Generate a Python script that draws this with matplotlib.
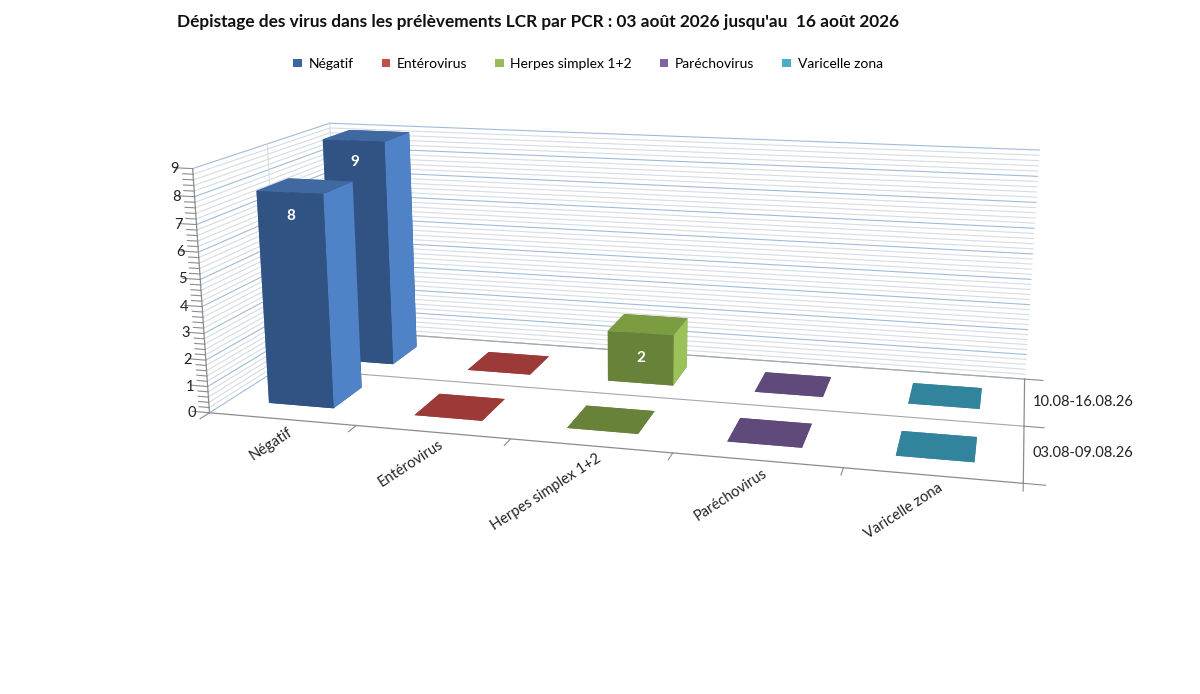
import matplotlib
matplotlib.use("Agg")
import matplotlib.pyplot as plt
import numpy as np
from matplotlib.patches import Patch
from mpl_toolkits.mplot3d import proj3d

plt.rcParams['font.family'] = ['Lato', 'DejaVu Sans']

title = "Dépistage des virus dans les prélèvements LCR par PCR : 03 août 2026 jusqu'au  16 août 2026"
categories = ['Négatif', 'Entérovirus', 'Herpes simplex 1+2', 'Paréchovirus', 'Varicelle zona']
periods = ['03.08-09.08.26', '10.08-16.08.26']
week1 = [8, 0, 0, 0, 0]
week2 = [9, 0, 2, 0, 0]
z_ticks = list(range(0, 10))

legend_colors = ['#3B66A0', '#C0504D', '#9BBB59', '#8064A2', '#4BACC6']
front_colors = ['#305383', '#9B3A37', '#68823A', '#5F4A7B', '#31849B']
side_colors = ['#4F82C6', '#C65A56', '#9BC25A', '#8A6DAE', '#55B4CC']
top_colors = ['#4069A2', '#B04A46', '#7C9C42', '#6E5590', '#3D98AE']

fig = plt.figure(figsize=(12, 6.94), dpi=100)
ax = fig.add_axes([0.012, -0.426, 1.0, 2.0], projection='3d', computed_zorder=False)
ax.set_proj_type('persp', focal_length=0.24)
ax.view_init(elev=14, azim=-76)
ax.set_box_aspect((4.7, 1.85, 1.47), zoom=0.705)
ax.set_axis_off()

nx = len(categories)
ny = len(periods)
zmax = 9

grid_major = '#9DBCDC'
grid_minor = '#D6DCE4'
axis_col = '#8C8C8C'

# walls: gridlines on the left wall and the back wall
for zv in np.arange(0, zmax + 0.01, 0.2):
    major = abs(zv - round(zv)) < 1e-6
    col = grid_major if major else grid_minor
    ax.plot([0, 0], [0, ny], [zv, zv], color=col, lw=0.8, zorder=1)
    ax.plot([0, nx], [ny, ny], [zv, zv], color=col, lw=0.8, zorder=1)
for yv in [1, 2]:
    ax.plot([0, 0], [yv, yv], [0, zmax], color=grid_minor, lw=0.8, zorder=1)

# floor lines
ax.plot([0, nx], [1, 1], [0, 0], color='#A6A6A6', lw=0.8, zorder=1)
ax.plot([0, nx], [ny, ny], [0, 0], color='#A6A6A6', lw=0.8, zorder=1)
ax.plot([0, nx], [0, 0], [0, 0], color=axis_col, lw=0.9, zorder=2)
ax.plot([nx, nx], [0, ny], [0, 0], color=axis_col, lw=0.9, zorder=2)
ax.plot([0, 0], [0, 0], [0, zmax], color=axis_col, lw=0.9, zorder=2)

# ticks
for zv in np.arange(0, zmax + 0.01, 0.2):
    major = abs(zv - round(zv)) < 1e-6
    ln = 0.12 if major else 0.07
    ax.plot([0, -ln], [0, 0], [zv, zv], color=axis_col, lw=0.8, zorder=2)
for xv in range(nx + 1):
    ax.plot([xv, xv], [0, -0.12], [0, 0], color=axis_col, lw=0.8, zorder=2)
for yv in range(ny + 1):
    ax.plot([nx, nx + 0.12], [yv, yv], [0, 0], color=axis_col, lw=0.8, zorder=2)

# bars: back row first, then front row
bw = 0.45
rows = [(1, week2), (0, week1)]
z = 3
for yrow, vals in rows:
    for i, v in enumerate(vals):
        x0 = i + (1 - bw) / 2
        y0 = yrow + (1 - bw) / 2
        if v > 0:
            cols = [front_colors[i], top_colors[i], front_colors[i],
                    front_colors[i], side_colors[i], side_colors[i]]
        else:
            cols = [front_colors[i]] * 6
        ax.bar3d(x0, y0, 0, bw, bw, v, color=cols, shade=False,
                 edgecolor='none', zorder=z)
        z += 1
        if v > 0:
            lz = v - 0.85 if v > 4 else v / 2
            ax.text(i + 0.5, y0, lz, str(v), color='white', fontsize=11,
                    fontweight='bold', ha='center', va='center', zorder=z)
            z += 1

ax.set_xlim(0, nx)
ax.set_ylim(0, ny)
ax.set_zlim(0, zmax)

M = ax.get_proj()


def to2d(x, y, zz):
    x2, y2, _ = proj3d.proj_transform(x, y, zz, M)
    return x2, y2


for zv in z_ticks:
    ax.annotate(str(zv), xy=to2d(0, 0, zv), xytext=(-10, 0), textcoords='offset points',
                ha='right', va='center', fontsize=10.5, color='#222222')
for i, name in enumerate(categories):
    ax.annotate(name, xy=to2d(i + 0.5, 0, 0), xytext=(4, -4), textcoords='offset points',
                ha='right', va='top', rotation=33, rotation_mode='anchor',
                fontsize=10.5, color='#222222')
for j, p in enumerate(periods):
    ax.annotate(p, xy=to2d(nx, j + 0.5, 0), xytext=(6, 0), textcoords='offset points',
                ha='left', va='center', fontsize=10.5, color='#222222')

fig.text(0.448, 0.968, title, ha='center', va='center', fontsize=12.4,
         fontweight='bold', color='#111111')
handles = [Patch(facecolor=c, edgecolor='none', label=n)
           for c, n in zip(legend_colors, categories)]
fig.legend(handles=handles, loc='center', bbox_to_anchor=(0.49, 0.908), ncol=5,
           frameon=False, handlelength=0.6, handleheight=0.6, handletextpad=0.5,
           columnspacing=2.0, fontsize=10)

fig.savefig('out.png', dpi=100)
